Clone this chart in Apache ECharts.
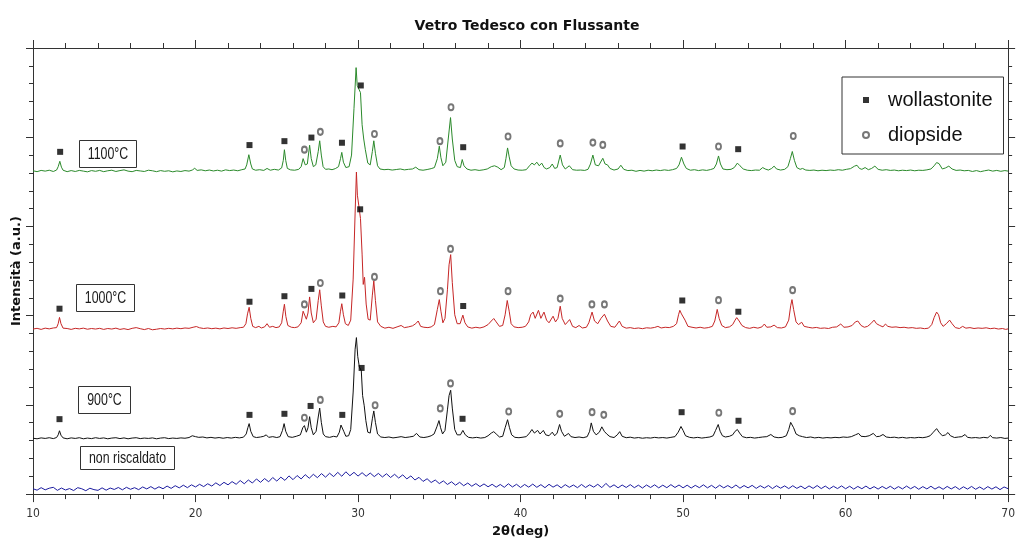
<!DOCTYPE html>
<html>
<head>
<meta charset="utf-8">
<script src="https://cdn.jsdelivr.net/npm/echarts@6/dist/echarts.min.js"></script>
<style>
  html, body { margin: 0; padding: 0; background: #fff; }
  #chart { width: 1018px; height: 543px; }
</style>
</head>
<body>
<div id="chart"></div>
<script>
// XRD patterns of "Vetro Tedesco con Flussante", 2θ (deg) vs intensity (a.u.).
// Intensities are relative to each pattern's own background; patterns are stacked with baseLevels.

const sampleNames = ['1100°C', '1000°C', '900°C', 'non riscaldato'];
const sampleColors = ['#2b8a2b', '#c62626', '#111111', '#1c1ca0'];
const baseLevels = [18.1, 9.25, 3.12, 0];

const pattern1100 = [
  [10.0,0.02],[10.25,-0.03],[10.5,0.04],[10.75,0.0],[11.0,0.05],[11.25,-0.02],[11.45,0.06],[11.55,0.25],[11.65,0.55],[11.75,0.22],[11.85,0.05],
  [12.1,-0.03],[12.35,0.03],[12.6,-0.02],[12.85,0.04],[13.1,0.0],[13.35,-0.04],[13.6,0.03],[13.85,-0.01],[14.1,0.04],[14.35,-0.03],[14.6,0.02],
  [14.85,0.05],[15.1,-0.02],[15.35,0.03],[15.6,0.07],[15.85,0.0],[16.1,-0.03],[16.35,0.04],[16.6,0.01],[16.85,-0.02],[17.1,0.05],[17.35,0.02],
  [17.6,-0.03],[17.85,0.03],[18.1,-0.01],[18.35,0.02],[18.6,-0.04],[18.85,0.01],[19.1,-0.02],[19.35,0.03],[19.6,0.0],[19.8,0.06],[19.95,0.16],
  [20.1,0.04],[20.35,0.07],[20.6,0.02],[20.85,0.06],[21.1,0.01],[21.35,0.05],[21.6,0.0],[21.85,0.07],[22.1,0.03],[22.35,0.06],[22.6,0.02],
  [22.85,0.08],[23.05,0.12],[23.15,0.35],[23.28,0.92],[23.4,0.4],[23.5,0.12],[23.7,0.05],[23.95,0.08],[24.2,0.04],[24.4,0.15],[24.6,0.05],
  [24.85,0.1],[25.1,0.06],[25.3,0.18],[25.4,0.6],[25.47,1.2],[25.55,0.6],[25.65,0.15],[25.85,0.07],[26.1,0.05],[26.35,0.1],[26.5,0.25],
  [26.62,0.7],[26.75,0.35],[26.88,0.4],[27.02,1.45],[27.12,0.7],[27.25,0.25],[27.4,0.35],[27.55,1.1],[27.64,1.7],[27.74,0.9],[27.85,0.25],
  [28.0,0.1],[28.2,0.12],[28.4,0.08],[28.6,0.14],[28.8,0.25],[28.92,0.7],[29.0,1.05],[29.1,0.5],[29.25,0.2],[29.45,0.25],[29.6,0.9],
  [29.75,3.5],[29.88,5.8],[29.95,4.8],[30.05,4.6],[30.15,4.4],[30.25,2.6],[30.35,1.8],[30.45,1.2],[30.6,0.45],[30.75,0.35],[30.88,1.1],
  [30.97,1.7],[31.07,1.0],[31.2,0.3],[31.35,0.12],[31.6,0.08],[31.85,0.1],[32.1,0.06],[32.35,0.09],[32.6,0.12],[32.85,0.07],[33.1,0.1],
  [33.35,0.12],[33.55,0.22],[33.75,0.08],[34.0,0.05],[34.25,0.09],[34.5,0.14],[34.7,0.2],[34.88,0.7],[35.0,1.4],[35.1,0.75],[35.22,0.3],
  [35.4,0.5],[35.55,1.8],[35.69,3.0],[35.8,1.8],[35.95,0.6],[36.1,0.25],[36.3,0.2],[36.41,0.65],[36.52,0.3],[36.7,0.12],[36.95,0.05],
  [37.2,0.08],[37.45,0.04],[37.7,0.07],[37.95,0.12],[38.2,0.25],[38.4,0.3],[38.6,0.22],[38.8,0.08],[39.0,0.2],[39.1,0.7],[39.2,1.3],
  [39.3,0.8],[39.42,0.3],[39.6,0.12],[39.85,0.06],[40.1,0.05],[40.35,0.08],[40.55,0.3],[40.7,0.45],[40.85,0.35],[41.0,0.5],[41.15,0.3],
  [41.3,0.45],[41.45,0.2],[41.6,0.12],[41.8,0.2],[41.95,0.4],[42.1,0.15],[42.25,0.2],[42.44,0.9],[42.58,0.35],[42.75,0.12],[43.0,0.3],
  [43.2,0.08],[43.45,0.05],[43.7,0.06],[43.95,0.04],[44.15,0.1],[44.3,0.4],[44.45,0.9],[44.6,0.35],[44.8,0.3],[45.06,0.72],[45.2,0.4],
  [45.35,0.35],[45.5,0.15],[45.75,0.06],[46.0,0.12],[46.17,0.33],[46.35,0.1],[46.6,0.03],[46.85,0.05],[47.1,-0.01],[47.35,0.04],[47.6,0.0],
  [47.85,0.05],[48.1,0.02],[48.35,0.06],[48.6,0.03],[48.85,0.07],[49.1,0.04],[49.35,0.08],[49.6,0.15],[49.75,0.35],[49.9,0.78],[50.05,0.4],
  [50.2,0.15],[50.45,0.05],[50.7,0.08],[50.95,0.03],[51.2,0.07],[51.45,0.04],[51.7,0.09],[51.9,0.15],[52.05,0.4],[52.18,0.85],[52.3,0.4],
  [52.45,0.12],[52.7,0.08],[52.95,0.1],[53.15,0.2],[53.34,0.45],[53.5,0.3],[53.7,0.12],[53.95,0.05],[54.2,0.03],[54.45,0.06],[54.7,0.05],
  [54.9,0.2],[55.05,0.12],[55.25,0.06],[55.45,0.15],[55.6,0.28],[55.75,0.12],[56.0,0.06],[56.25,0.1],[56.45,0.25],[56.6,0.7],[56.72,1.1],
  [56.85,0.6],[57.0,0.2],[57.2,0.1],[57.35,0.15],[57.55,0.06],[57.8,0.04],[58.05,0.06],[58.3,0.02],[58.55,0.05],[58.8,0.03],[59.05,0.06],
  [59.3,0.04],[59.55,0.08],[59.8,0.05],[60.05,0.1],[60.3,0.14],[60.55,0.28],[60.7,0.33],[60.85,0.15],[61.0,0.1],[61.2,0.2],[61.4,0.08],
  [61.6,0.15],[61.8,0.28],[62.0,0.1],[62.25,0.05],[62.5,0.08],[62.75,0.04],[63.0,0.06],[63.25,0.02],[63.5,0.05],[63.75,0.03],[64.0,0.06],
  [64.25,0.02],[64.5,0.05],[64.75,0.04],[65.0,0.07],[65.25,0.12],[65.45,0.3],[65.6,0.48],[65.75,0.42],[65.95,0.12],[66.15,0.18],[66.35,0.28],
  [66.55,0.12],[66.8,0.04],[67.05,0.06],[67.3,0.02],[67.55,0.04],[67.8,-0.02],[68.05,0.03],[68.3,-0.03],[68.55,0.02],[68.8,0.06],[69.05,0.0],
  [69.3,0.04],[69.55,-0.01],[69.8,0.03],[70.0,0.0]
];

const pattern1000 = [
  [10.0,0.0],[10.25,0.04],[10.5,-0.02],[10.75,0.05],[11.0,0.01],[11.25,0.06],[11.45,0.08],[11.55,0.3],[11.63,0.65],[11.72,0.3],[11.85,0.05],
  [12.1,0.03],[12.35,-0.02],[12.6,0.04],[12.85,0.01],[13.1,0.05],[13.35,-0.01],[13.6,0.03],[13.85,0.0],[14.1,0.04],[14.35,-0.02],[14.6,0.03],
  [14.85,0.0],[15.1,0.05],[15.35,-0.02],[15.6,0.02],[15.85,-0.03],[16.1,0.04],[16.35,0.08],[16.6,0.02],[16.85,-0.03],[17.1,0.03],[17.35,-0.04],
  [17.6,-0.01],[17.85,0.03],[18.1,0.0],[18.35,0.04],[18.6,0.01],[18.85,0.05],[19.1,0.02],[19.35,0.06],[19.6,0.04],[19.85,0.1],[20.05,0.14],
  [20.25,0.07],[20.5,0.03],[20.75,0.06],[21.0,0.02],[21.25,0.05],[21.5,0.01],[21.75,0.06],[22.0,0.03],[22.25,0.07],[22.5,0.04],[22.75,0.08],
  [22.95,0.1],[23.1,0.3],[23.2,0.85],[23.3,1.22],[23.4,0.6],[23.52,0.15],[23.7,0.08],[23.9,0.15],[24.05,0.06],[24.25,0.12],[24.4,0.3],
  [24.55,0.1],[24.75,0.15],[24.95,0.08],[25.15,0.12],[25.3,0.35],[25.4,1.0],[25.47,1.39],[25.56,0.7],[25.68,0.2],[25.9,0.1],[26.1,0.08],
  [26.3,0.12],[26.5,0.35],[26.62,1.0],[26.7,1.1],[26.82,0.55],[26.92,0.9],[27.02,1.8],[27.12,0.9],[27.25,0.35],[27.42,0.55],[27.55,1.6],
  [27.64,2.2],[27.74,1.3],[27.86,0.4],[28.0,0.15],[28.2,0.1],[28.45,0.15],[28.65,0.12],[28.82,0.35],[28.92,1.0],[29.0,1.42],[29.1,0.8],
  [29.22,0.3],[29.4,0.2],[29.55,0.5],[29.7,2.8],[29.82,6.5],[29.9,8.8],[29.96,7.5],[30.05,6.9],[30.15,6.2],[30.25,4.2],[30.32,2.5],
  [30.4,2.9],[30.5,1.4],[30.62,0.55],[30.75,0.5],[30.88,1.9],[30.97,2.7],[31.07,1.6],[31.2,0.4],[31.4,0.15],[31.65,0.05],[31.9,0.1],
  [32.15,0.04],[32.4,0.12],[32.65,0.2],[32.85,0.08],[33.1,0.12],[33.35,0.18],[33.55,0.3],[33.7,0.45],[33.85,0.15],[34.05,0.1],[34.3,0.08],
  [34.5,0.12],[34.7,0.25],[34.88,1.1],[35.0,1.65],[35.1,1.0],[35.22,0.35],[35.35,0.6],[35.5,2.2],[35.6,3.6],[35.7,4.17],[35.8,2.6],
  [35.95,0.8],[36.1,0.3],[36.28,0.3],[36.45,0.78],[36.58,0.35],[36.75,0.12],[37.0,0.05],[37.25,0.1],[37.5,0.06],[37.75,0.12],[38.0,0.25],
  [38.2,0.45],[38.35,0.59],[38.5,0.4],[38.7,0.15],[38.9,0.2],[39.05,0.8],[39.18,1.6],[39.3,1.0],[39.42,0.3],[39.6,0.12],[39.85,0.08],
  [40.1,0.1],[40.3,0.15],[40.5,0.4],[40.62,0.8],[40.77,0.95],[40.9,0.6],[41.1,1.05],[41.25,0.6],[41.44,0.95],[41.6,0.5],[41.75,0.35],
  [42.0,0.72],[42.15,0.4],[42.3,0.6],[42.44,1.28],[42.56,0.6],[42.75,0.25],[43.02,0.53],[43.2,0.15],[43.4,0.08],[43.6,0.2],[43.8,0.06],
  [44.05,0.1],[44.2,0.35],[44.4,0.95],[44.55,0.45],[44.75,0.3],[44.95,0.6],[45.16,0.83],[45.35,0.45],[45.55,0.15],[45.8,0.1],[46.08,0.45],
  [46.25,0.15],[46.5,0.05],[46.75,0.08],[47.0,0.03],[47.25,0.06],[47.5,0.02],[47.75,0.07],[48.0,0.05],[48.25,0.09],[48.45,0.15],[48.65,0.06],
  [48.9,0.1],[49.15,0.08],[49.4,0.15],[49.6,0.3],[49.72,0.8],[49.8,1.05],[49.9,0.85],[50.0,0.95],[50.12,0.5],[50.3,0.15],[50.55,0.1],
  [50.8,0.06],[51.05,0.1],[51.3,0.05],[51.55,0.08],[51.8,0.15],[51.95,0.45],[52.1,1.1],[52.22,0.6],[52.38,0.2],[52.6,0.08],[52.85,0.12],
  [53.05,0.25],[53.2,0.5],[53.3,0.64],[53.45,0.45],[53.62,0.2],[53.85,0.08],[54.1,0.04],[54.35,0.1],[54.6,0.05],[54.85,0.12],[55.0,0.28],
  [55.15,0.1],[55.4,0.12],[55.6,0.22],[55.8,0.08],[56.05,0.06],[56.3,0.12],[56.5,0.5],[56.62,1.3],[56.7,1.65],[56.8,1.1],[56.95,0.4],
  [57.1,0.25],[57.3,0.38],[57.45,0.15],[57.7,0.1],[57.95,0.06],[58.2,0.09],[58.45,0.04],[58.7,0.06],[58.95,0.03],[59.2,0.1],[59.45,0.12],
  [59.7,0.28],[59.9,0.1],[60.15,0.12],[60.4,0.2],[60.6,0.4],[60.75,0.45],[60.95,0.2],[61.15,0.1],[61.35,0.15],[61.55,0.3],[61.75,0.5],
  [61.9,0.3],[62.1,0.2],[62.3,0.12],[62.45,0.28],[62.6,0.15],[62.85,0.1],[63.1,0.12],[63.35,0.08],[63.6,0.1],[63.85,0.06],[64.1,0.08],
  [64.35,0.04],[64.6,0.06],[64.85,0.02],[65.1,0.05],[65.3,0.25],[65.45,0.65],[65.6,0.95],[65.72,0.8],[65.85,0.35],[66.0,0.15],[66.2,0.3],
  [66.4,0.5],[66.55,0.3],[66.75,0.08],[67.0,0.03],[67.2,0.15],[67.4,0.05],[67.65,0.08],[67.9,0.03],[68.15,0.06],[68.4,0.04],[68.65,0.07],
  [68.9,0.02],[69.15,0.05],[69.4,0.0],[69.65,0.03],[69.85,-0.02],[70.0,0.01]
];

const pattern900 = [
  [10.0,0.01],[10.25,-0.02],[10.5,0.03],[10.75,0.0],[11.0,0.04],[11.25,-0.01],[11.45,0.05],[11.55,0.2],[11.63,0.43],[11.72,0.18],[11.85,0.03],
  [12.1,-0.02],[12.35,0.03],[12.6,0.0],[12.85,0.04],[13.1,-0.02],[13.35,0.02],[13.6,-0.01],[13.85,0.04],[14.1,0.0],[14.35,0.03],[14.6,-0.02],
  [14.85,0.02],[15.1,0.04],[15.35,-0.01],[15.6,0.03],[15.85,-0.02],[16.1,0.02],[16.35,0.04],[16.6,-0.01],[16.85,0.02],[17.1,0.0],[17.35,0.03],
  [17.6,-0.02],[17.85,0.02],[18.1,0.04],[18.35,-0.01],[18.6,0.02],[18.85,0.0],[19.1,0.03],[19.35,0.01],[19.6,0.05],[19.8,0.15],[20.0,0.1],
  [20.2,0.06],[20.45,0.08],[20.7,0.03],[20.95,0.06],[21.2,0.02],[21.45,0.05],[21.7,0.01],[21.95,0.05],[22.2,0.02],[22.45,0.06],[22.7,0.03],
  [22.95,0.07],[23.12,0.25],[23.22,0.6],[23.3,0.83],[23.4,0.4],[23.55,0.1],[23.75,0.05],[24.0,0.08],[24.2,0.12],[24.35,0.2],[24.5,0.06],
  [24.75,0.1],[25.0,0.05],[25.2,0.1],[25.35,0.45],[25.45,0.83],[25.55,0.4],[25.7,0.1],[25.95,0.06],[26.2,0.12],[26.45,0.2],[26.6,0.6],
  [26.7,0.72],[26.82,0.35],[26.92,0.6],[27.02,1.22],[27.12,0.6],[27.25,0.2],[27.42,0.4],[27.55,1.2],[27.64,1.7],[27.74,0.9],[27.86,0.25],
  [28.0,0.1],[28.25,0.06],[28.5,0.12],[28.7,0.08],[28.85,0.35],[28.95,0.75],[29.02,0.83],[29.12,0.4],[29.25,0.12],[29.42,0.15],[29.55,0.5],
  [29.7,2.6],[29.82,5.0],[29.9,5.65],[29.98,4.6],[30.08,4.0],[30.2,3.8],[30.28,2.4],[30.38,1.83],[30.48,1.0],[30.6,0.35],[30.75,0.3],
  [30.88,1.1],[30.97,1.54],[31.07,0.9],[31.2,0.25],[31.4,0.08],[31.65,0.05],[31.9,0.08],[32.15,0.03],[32.4,0.06],[32.65,0.1],[32.9,0.05],
  [33.15,0.08],[33.4,0.12],[33.6,0.28],[33.8,0.08],[34.05,0.05],[34.3,0.09],[34.5,0.15],[34.68,0.25],[34.85,0.65],[34.98,1.0],[35.08,0.6],
  [35.2,0.25],[35.35,0.45],[35.5,1.6],[35.6,2.4],[35.7,2.7],[35.8,1.7],[35.95,0.5],[36.1,0.2],[36.3,0.2],[36.45,0.45],[36.6,0.2],
  [36.8,0.06],[37.05,0.03],[37.3,0.06],[37.55,0.02],[37.8,0.05],[38.0,0.15],[38.2,0.3],[38.35,0.38],[38.5,0.25],[38.7,0.08],[38.9,0.12],
  [39.05,0.6],[39.2,1.05],[39.32,0.6],[39.45,0.2],[39.65,0.06],[39.9,0.04],[40.15,0.07],[40.35,0.1],[40.55,0.3],[40.7,0.5],[40.85,0.3],
  [41.05,0.45],[41.2,0.25],[41.4,0.45],[41.55,0.2],[41.75,0.15],[41.95,0.35],[42.1,0.15],[42.25,0.3],[42.4,0.78],[42.52,0.4],[42.7,0.12],
  [42.95,0.28],[43.1,0.1],[43.35,0.05],[43.6,0.08],[43.85,0.04],[44.1,0.1],[44.25,0.4],[44.35,0.87],[44.48,0.4],[44.65,0.2],[44.85,0.35],
  [45.0,0.65],[45.15,0.4],[45.3,0.25],[45.5,0.1],[45.75,0.05],[45.95,0.2],[46.1,0.38],[46.25,0.12],[46.5,0.04],[46.75,0.07],[47.0,0.02],
  [47.25,0.05],[47.5,0.01],[47.75,0.04],[48.0,0.02],[48.25,0.06],[48.5,0.03],[48.75,0.05],[49.0,0.02],[49.25,0.06],[49.5,0.1],[49.7,0.35],
  [49.87,0.67],[50.0,0.45],[50.15,0.15],[50.4,0.06],[50.65,0.03],[50.9,0.06],[51.15,0.02],[51.4,0.05],[51.65,0.08],[51.85,0.15],[52.0,0.45],
  [52.16,0.78],[52.28,0.4],[52.42,0.15],[52.6,0.08],[52.85,0.12],[53.05,0.2],[53.2,0.4],[53.34,0.5],[53.48,0.3],[53.65,0.1],[53.9,0.04],
  [54.15,0.06],[54.4,0.02],[54.65,0.05],[54.9,0.08],[55.15,0.1],[55.4,0.22],[55.6,0.08],[55.85,0.04],[56.1,0.06],[56.35,0.15],[56.5,0.5],
  [56.62,0.9],[56.7,0.98],[56.8,0.6],[56.95,0.25],[57.15,0.15],[57.35,0.1],[57.6,0.05],[57.85,0.08],[58.1,0.03],[58.35,0.06],[58.6,0.02],
  [58.85,0.05],[59.1,0.03],[59.35,0.06],[59.6,0.04],[59.85,0.08],[60.1,0.06],[60.35,0.1],[60.6,0.2],[60.8,0.28],[60.95,0.12],[61.2,0.1],
  [61.45,0.15],[61.7,0.28],[61.9,0.1],[62.1,0.12],[62.3,0.22],[62.5,0.08],[62.75,0.05],[63.0,0.07],[63.25,0.03],[63.5,0.06],[63.75,0.02],
  [64.0,0.05],[64.25,0.03],[64.5,0.06],[64.75,0.04],[65.0,0.08],[65.2,0.15],[65.4,0.35],[65.6,0.55],[65.75,0.35],[65.95,0.15],[66.15,0.2],
  [66.3,0.33],[66.45,0.15],[66.7,0.05],[66.95,0.08],[67.15,0.1],[67.35,0.22],[67.5,0.06],[67.75,0.03],[68.0,0.05],[68.25,0.02],[68.5,0.06],
  [68.75,0.03],[68.9,0.17],[69.05,0.04],[69.3,0.02],[69.55,0.05],[69.8,0.0],[70.0,0.02]
];

const patternRaw = [
  [10.0,0.30],[10.25,0.22],[10.5,0.36],[10.75,0.24],[11.0,0.33],[11.25,0.38],[11.5,0.21],[11.75,0.34],[12.0,0.23],[12.25,0.31],[12.5,0.20],
  [12.75,0.36],[13.0,0.30],[13.25,0.19],[13.5,0.33],[13.75,0.25],[14.0,0.21],[14.25,0.35],[14.5,0.22],[14.75,0.34],[15.0,0.26],[15.25,0.37],
  [15.5,0.24],[15.75,0.38],[16.0,0.27],[16.25,0.36],[16.5,0.25],[16.75,0.40],[17.0,0.29],[17.25,0.42],[17.5,0.28],[17.75,0.41],[18.0,0.30],
  [18.25,0.45],[18.5,0.32],[18.75,0.47],[19.0,0.35],[19.25,0.50],[19.5,0.36],[19.75,0.52],[20.0,0.40],[20.25,0.55],[20.5,0.42],[20.75,0.58],
  [21.0,0.45],[21.25,0.63],[21.5,0.48],[21.75,0.66],[22.0,0.52],[22.25,0.70],[22.5,0.55],[22.75,0.76],[23.0,0.58],[23.25,0.79],[23.5,0.62],
  [23.75,0.85],[24.0,0.66],[24.25,0.87],[24.5,0.69],[24.75,0.93],[25.0,0.73],[25.25,0.95],[25.5,0.77],[25.75,1.02],[26.0,0.81],[26.25,1.04],
  [26.5,0.85],[26.75,1.09],[27.0,0.89],[27.25,1.11],[27.5,0.92],[27.75,1.15],[28.0,0.95],[28.25,1.17],[28.5,0.98],[28.75,1.22],[29.0,1.00],
  [29.25,1.25],[29.5,1.03],[29.75,1.22],[30.0,1.01],[30.25,1.20],[30.5,1.00],[30.75,1.18],[31.0,0.98],[31.25,1.16],[31.5,0.96],[31.75,1.14],
  [32.0,0.93],[32.25,1.11],[32.5,0.90],[32.75,1.08],[33.0,0.85],[33.25,1.02],[33.5,0.79],[33.75,0.94],[34.0,0.71],[34.25,0.86],[34.5,0.65],
  [34.75,0.79],[35.0,0.59],[35.25,0.74],[35.5,0.54],[35.75,0.69],[36.0,0.50],[36.25,0.66],[36.5,0.47],[36.75,0.62],[37.0,0.44],[37.25,0.59],
  [37.5,0.42],[37.75,0.57],[38.0,0.41],[38.25,0.55],[38.5,0.39],[38.75,0.54],[39.0,0.38],[39.25,0.58],[39.5,0.40],[39.75,0.55],[40.0,0.37],
  [40.25,0.54],[40.5,0.39],[40.75,0.56],[41.0,0.38],[41.25,0.53],[41.5,0.36],[41.75,0.55],[42.0,0.39],[42.25,0.52],[42.5,0.35],[42.75,0.53],
  [43.0,0.38],[43.25,0.51],[43.5,0.36],[43.75,0.54],[44.0,0.37],[44.25,0.52],[44.5,0.39],[44.75,0.55],[45.0,0.36],[45.25,0.60],[45.5,0.38],
  [45.75,0.52],[46.0,0.35],[46.25,0.51],[46.5,0.37],[46.75,0.53],[47.0,0.36],[47.25,0.50],[47.5,0.34],[47.75,0.51],[48.0,0.37],[48.25,0.52],
  [48.5,0.35],[48.75,0.50],[49.0,0.36],[49.25,0.53],[49.5,0.37],[49.75,0.51],[50.0,0.35],[50.25,0.50],[50.5,0.34],[50.75,0.49],[51.0,0.36],
  [51.25,0.52],[51.5,0.35],[51.75,0.49],[52.0,0.33],[52.25,0.50],[52.5,0.35],[52.75,0.48],[53.0,0.34],[53.25,0.51],[53.5,0.33],[53.75,0.48],
  [54.0,0.35],[54.25,0.49],[54.5,0.32],[54.75,0.47],[55.0,0.34],[55.25,0.48],[55.5,0.31],[55.75,0.47],[56.0,0.33],[56.25,0.46],[56.5,0.31],
  [56.75,0.47],[57.0,0.32],[57.25,0.45],[57.5,0.30],[57.75,0.46],[58.0,0.32],[58.25,0.48],[58.5,0.31],[58.75,0.45],[59.0,0.29],[59.25,0.44],
  [59.5,0.31],[59.75,0.46],[60.0,0.30],[60.25,0.44],[60.5,0.28],[60.75,0.43],[61.0,0.30],[61.25,0.45],[61.5,0.29],[61.75,0.42],[62.0,0.28],
  [62.25,0.43],[62.5,0.30],[62.75,0.44],[63.0,0.28],[63.25,0.42],[63.5,0.29],[63.75,0.45],[64.0,0.30],[64.25,0.43],[64.5,0.27],[64.75,0.42],
  [65.0,0.29],[65.25,0.44],[65.5,0.28],[65.75,0.41],[66.0,0.27],[66.25,0.43],[66.5,0.29],[66.75,0.42],[67.0,0.26],[67.25,0.41],[67.5,0.28],
  [67.75,0.43],[68.0,0.27],[68.25,0.40],[68.5,0.26],[68.75,0.42],[69.0,0.28],[69.25,0.41],[69.5,0.25],[69.75,0.40],[70.0,0.30]
];

// Phase identification marks: [2θ, level on the stacked intensity scale]
const wollastoniteMarks = [
  [11.67,19.18],[23.32,19.56],[25.47,19.78],[27.13,19.98],[29.01,19.69],[30.17,22.9],[36.47,19.44],[49.97,19.48],[53.39,19.33],
  [11.63,10.39],[23.32,10.78],[25.47,11.09],[27.13,11.5],[29.03,11.13],[30.13,15.96],[36.47,10.54],[49.95,10.85],[53.4,10.22],
  [11.63,4.2],[23.32,4.44],[25.47,4.5],[27.08,4.94],[29.03,4.44],[30.22,7.07],[36.43,4.22],[49.91,4.59],[53.41,4.11]
];
const diopsideMarks = [
  [26.7,19.3],[27.68,20.3],[31.01,20.18],[35.04,19.78],[35.72,21.68],[39.23,20.04],[42.44,19.65],[44.45,19.7],[45.06,19.57],[52.18,19.48],[56.78,20.07],
  [26.7,10.63],[27.68,11.83],[31.01,12.17],[35.07,11.37],[35.69,13.74],[39.23,11.37],[42.44,10.96],[44.39,10.63],[45.16,10.63],[52.18,10.87],[56.74,11.43],
  [26.7,4.28],[27.68,5.28],[31.05,4.98],[35.06,4.8],[35.69,6.2],[39.27,4.63],[42.41,4.5],[44.4,4.59],[45.12,4.44],[52.2,4.56],[56.74,4.65]
];

// Sample tags: [2θ, level] of each boxed label's centre
const tagAnchors = [[14.59,19.11],[14.46,11.02],[14.37,5.28],[15.8,2.04]];

const patterns = [pattern1100, pattern1000, pattern900, patternRaw];

const narrowFont = "'Liberation Sans Narrow', 'DejaVu Sans Condensed', 'Liberation Sans', sans-serif";
const boldFont = "'DejaVu Sans', sans-serif";

const chart = echarts.init(document.getElementById('chart'), null, { renderer: 'canvas' });

const lineSeries = patterns.map((pat, i) => ({
  name: sampleNames[i],
  type: 'line',
  xAxisIndex: 0, yAxisIndex: 0,
  showSymbol: false,
  symbol: 'none',
  silent: true,
  z: 2 + (3 - i),
  lineStyle: { color: sampleColors[i], width: 1 },
  data: pat.map(([t, v]) => [t, v + baseLevels[i]])
})).reverse();

const axisColor = '#333';

chart.setOption({
  animation: false,
  backgroundColor: '#fff',
  title: {
    text: 'Vetro Tedesco con Flussante',
    left: 522,
    top: 14,
    textAlign: 'center',
    textStyle: { fontFamily: boldFont, fontWeight: 'bold', fontSize: 14, color: '#111' }
  },
  legend: {
    data: ['wollastonite', 'diopside'],
    orient: 'vertical',
    left: 842,
    top: 77,
    padding: [11, 11, 7, 20],
    itemGap: 11,
    itemWidth: 6,
    itemHeight: 6,
    borderColor: '#333',
    borderWidth: 1,
    backgroundColor: '#fff',
    textStyle: { fontFamily: "'Liberation Sans', Arial, sans-serif", fontSize: 20, color: '#111', lineHeight: 24, padding: [0, 0, 0, 14] }
  },
  grid: { left: 33, right: 6, top: 48, bottom: 45, containLabel: false },
  xAxis: [
    {
      type: 'value', position: 'bottom', min: 10, max: 70, interval: 10,
      name: '2θ(deg)', nameLocation: 'middle', nameGap: 30,
      nameTextStyle: { fontFamily: boldFont, fontWeight: 'bold', fontSize: 13, color: '#111' },
      axisLine: { show: true, onZero: false, lineStyle: { color: axisColor, width: 1 } },
      axisTick: { show: true, inside: false, length: 8, lineStyle: { color: axisColor } },
      minorTick: { show: true, splitNumber: 5, length: 5, lineStyle: { color: axisColor } },
      axisLabel: { fontFamily: narrowFont, fontSize: 12, color: '#333', margin: 14 },
      splitLine: { show: false }
    },
    {
      type: 'value', position: 'top', min: 10, max: 70, interval: 10,
      axisLine: { show: true, onZero: false, lineStyle: { color: axisColor, width: 1 } },
      axisTick: { show: true, inside: false, length: 8, lineStyle: { color: axisColor } },
      minorTick: { show: true, splitNumber: 5, length: 5, lineStyle: { color: axisColor } },
      axisLabel: { show: false },
      splitLine: { show: false }
    }
  ],
  yAxis: [
    {
      type: 'value', position: 'left', min: 0, max: 25, interval: 5,
      name: 'Intensità (a.u.)', nameLocation: 'middle', nameGap: 10,
      nameTextStyle: { fontFamily: boldFont, fontWeight: 'bold', fontSize: 13, color: '#111' },
      axisLine: { show: true, onZero: false, lineStyle: { color: axisColor, width: 1 } },
      axisTick: { show: true, inside: false, length: 7, lineStyle: { color: axisColor } },
      minorTick: { show: true, splitNumber: 5, length: 4, lineStyle: { color: axisColor } },
      axisLabel: { show: false },
      splitLine: { show: false }
    },
    {
      type: 'value', position: 'right', min: 0, max: 25, interval: 5,
      axisLine: { show: true, onZero: false, lineStyle: { color: axisColor, width: 1 } },
      axisTick: { show: true, inside: false, length: 7, lineStyle: { color: axisColor } },
      minorTick: { show: true, splitNumber: 5, length: 4, lineStyle: { color: axisColor } },
      axisLabel: { show: false },
      splitLine: { show: false }
    }
  ],
  series: [
    ...lineSeries,
    {
      name: 'wollastonite',
      type: 'scatter',
      xAxisIndex: 0, yAxisIndex: 0,
      symbol: 'rect',
      symbolSize: 6,
      silent: true,
      z: 10,
      itemStyle: { color: '#000' },
      data: wollastoniteMarks
    },
    {
      name: 'diopside',
      type: 'scatter',
      xAxisIndex: 0, yAxisIndex: 0,
      symbol: 'emptyCircle',
      symbolSize: [5, 6],
      silent: true,
      z: 10,
      itemStyle: { color: '#555', borderColor: '#555', borderWidth: 0.8 },
      data: diopsideMarks
    }
  ]
});

// Boxed sample tags: narrow, tall lettering in a white framed box, anchored in data space.
const tagFontSize = 16.5;
const tagScaleX = 0.75;
const tagFont = tagFontSize + "px 'Liberation Sans', Arial, sans-serif";
const measureCtx = document.createElement('canvas').getContext('2d');
measureCtx.font = tagFont;

const tagGraphics = [];
tagAnchors.forEach((anchor, i) => {
  const [px, py] = chart.convertToPixel({ gridIndex: 0 }, anchor);
  const textW = measureCtx.measureText(sampleNames[i]).width * tagScaleX;
  const boxW = Math.round(textW + 17);
  const boxH = i === 3 ? 23 : 27;
  const bx = Math.round(px - boxW / 2) + 0.5;
  const by = Math.round(py - boxH / 2) + 0.5;
  tagGraphics.push({
    type: 'rect',
    z: 20,
    silent: true,
    shape: { x: bx, y: by, width: boxW, height: boxH },
    style: { fill: '#fff', stroke: '#333', lineWidth: 1 }
  });
  tagGraphics.push({
    type: 'text',
    z: 21,
    silent: true,
    x: bx + boxW / 2,
    y: by + boxH / 2 + 0.5,
    scaleX: tagScaleX,
    style: { text: sampleNames[i], font: tagFont, fill: '#1a1a1a', align: 'center', verticalAlign: 'middle' }
  });
});
chart.setOption({ graphic: tagGraphics });
</script>
</body>
</html>
